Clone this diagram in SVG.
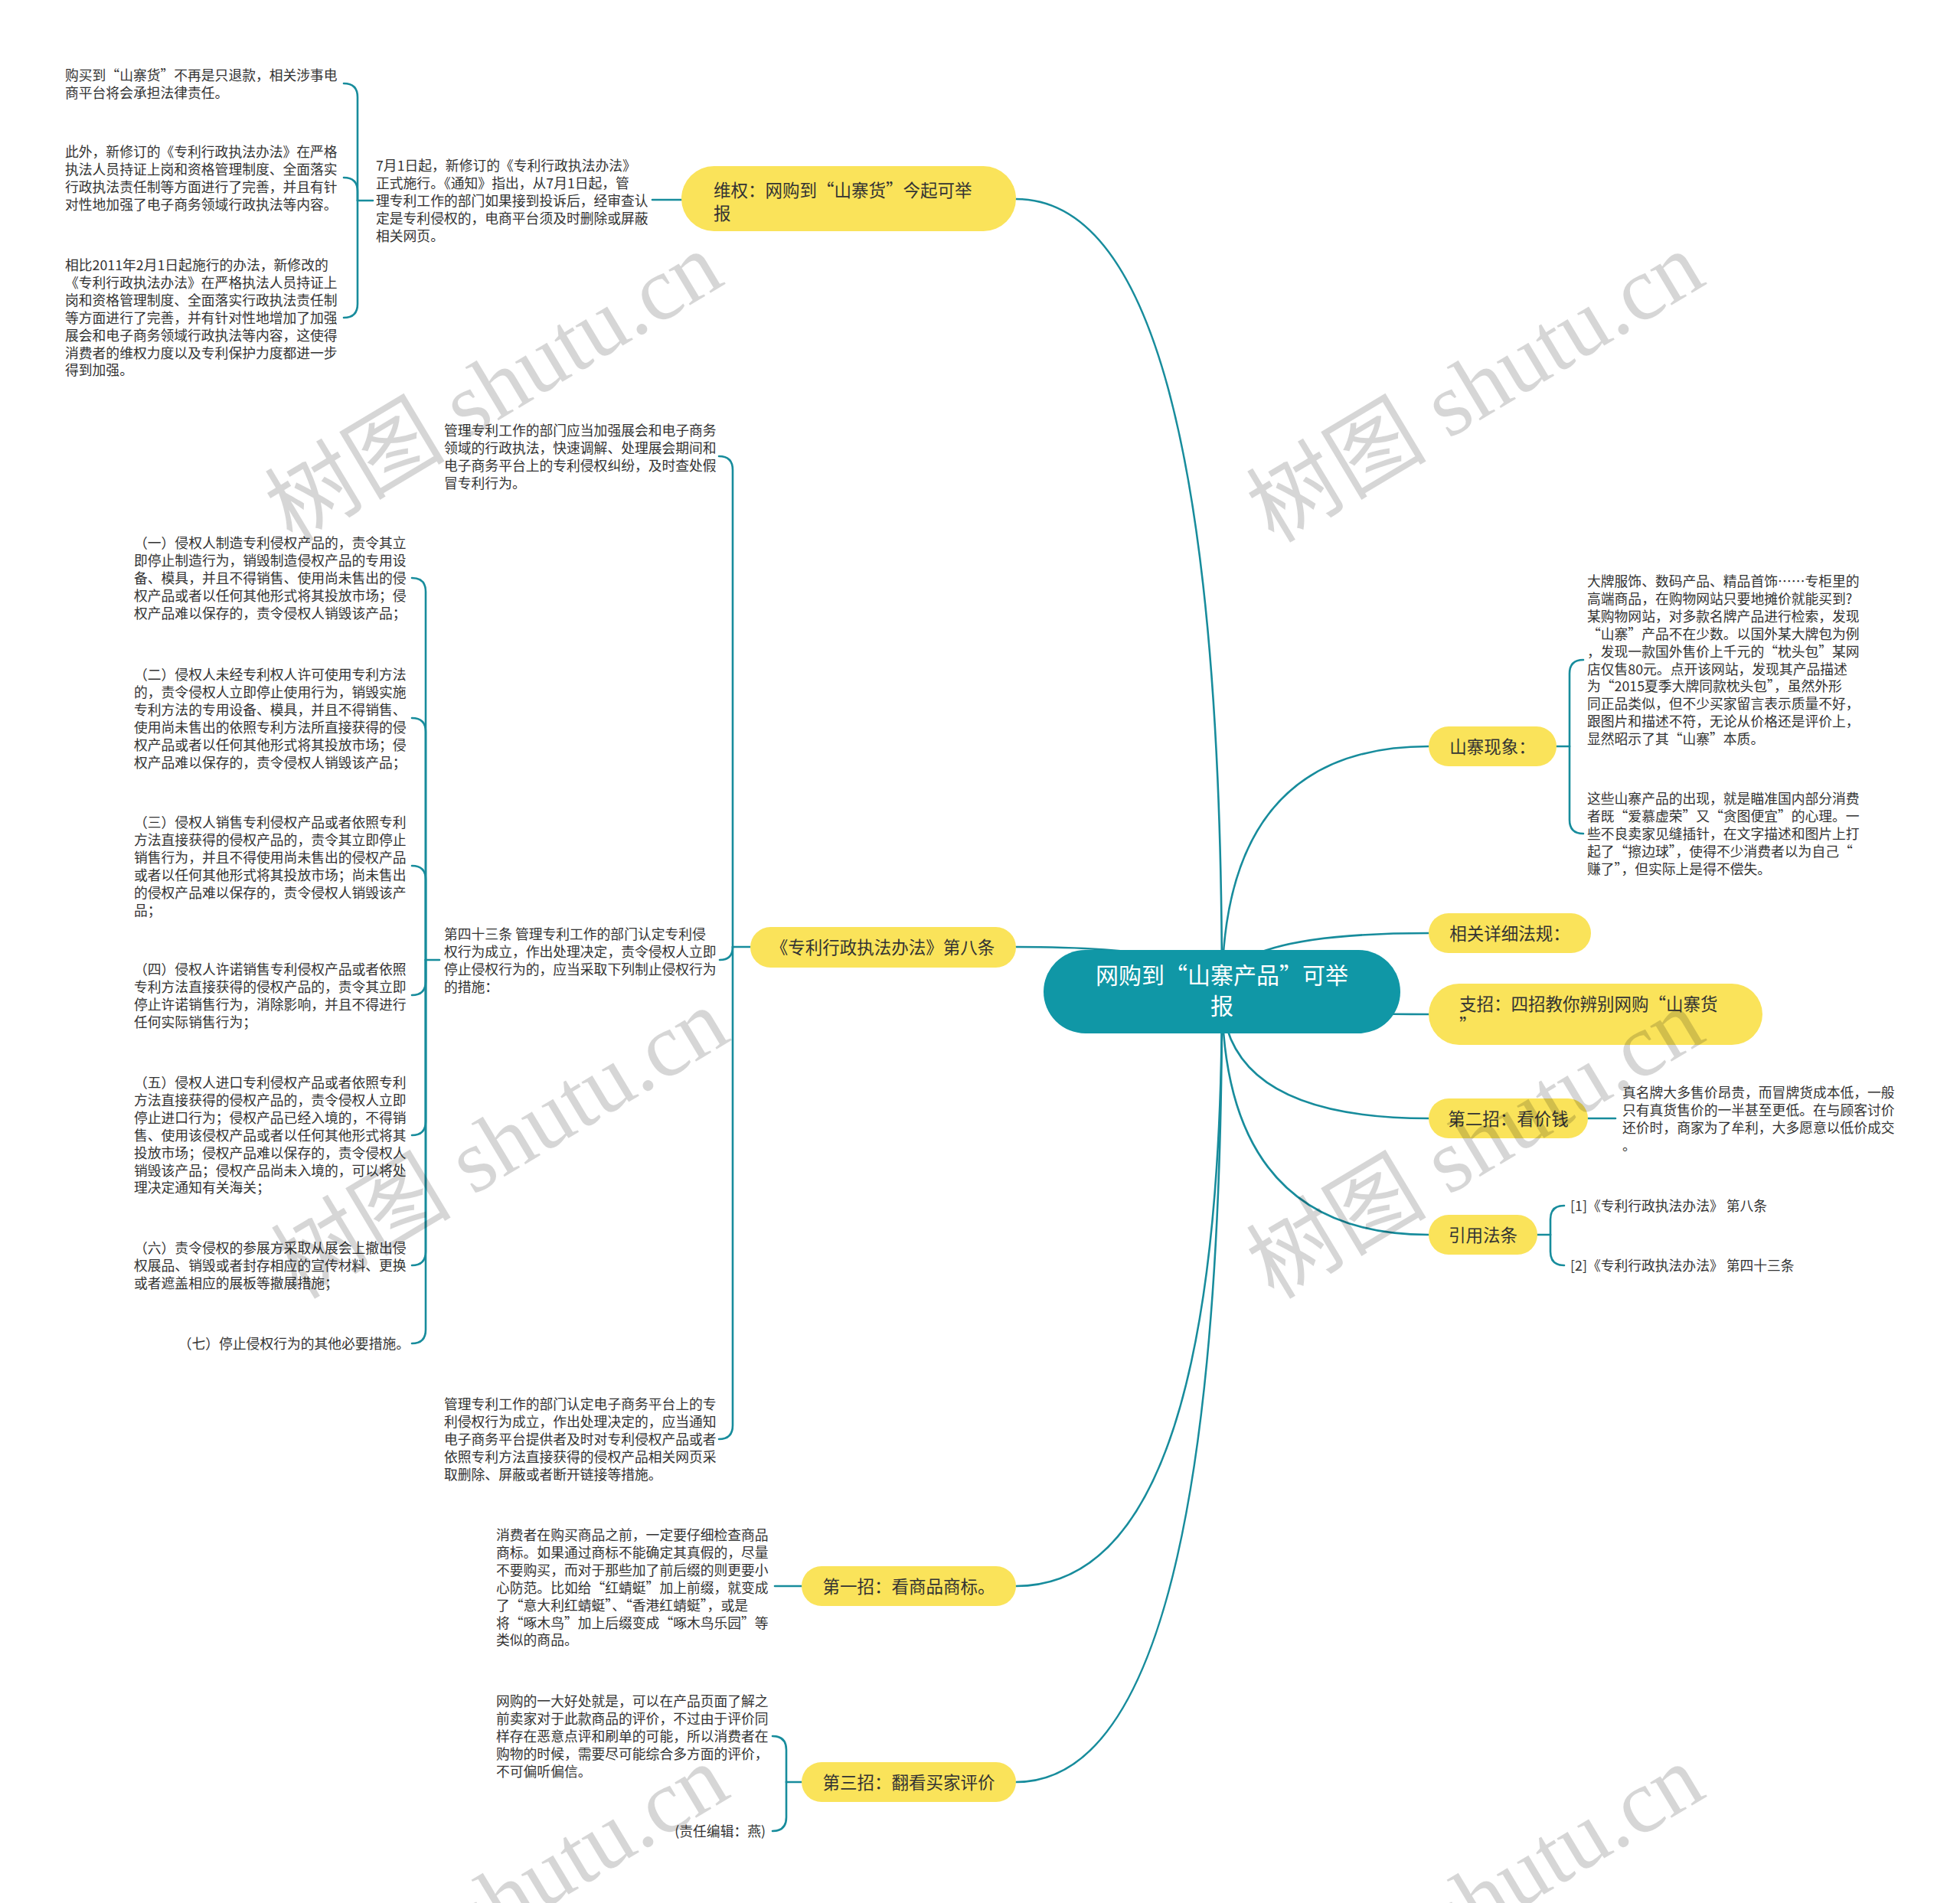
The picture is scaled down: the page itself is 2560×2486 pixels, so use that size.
<svg xmlns="http://www.w3.org/2000/svg" width="2560" height="2486" viewBox="0 0 2560 2486">
<style>
.t{font-family:'Noto Sans CJK SC','Noto Sans',sans-serif;font-size:17.8px;fill:#333}
.n{font-family:'Noto Sans CJK SC','Noto Sans',sans-serif;font-size:22.5px;fill:#333}
.r{font-family:'Noto Sans CJK SC','Noto Sans',sans-serif;font-size:30px;fill:#fff}
.y{fill:#fae35a}
.c path{fill:none;stroke:#178c9c;stroke-width:2.6;stroke-linecap:round}
.wm{font-family:'Liberation Serif','Noto Sans CJK SC',serif;font-size:118px;fill:#000;fill-opacity:0.16}
</style>
<rect width="2560" height="2486" fill="#fff"/>
<g id="connectors" class="c">
<path d="M1596,1296 Q1596,260 1327,260"/>
<path d="M1596,1296 Q1596,1237 1327,1237"/>
<path d="M1596,1296 Q1596,2072 1327,2072"/>
<path d="M1596,1296 Q1596,2328 1327,2328"/>
<path d="M1596,1296 Q1596,975 1866,975"/>
<path d="M1596,1296 Q1596,1219 1866,1219"/>
<path d="M1596,1296 Q1596,1325 1866,1325"/>
<path d="M1596,1296 Q1596,1461 1866,1461"/>
<path d="M1596,1296 Q1596,1613 1866,1613"/>
<path d="M852,261 H890"/>
<path d="M487,262 H467"/>
<path d="M467,262 V127 Q467,109 449,109"/>
<path d="M467,262 V250 Q467,232 449,232"/>
<path d="M467,262 V397 Q467,415 449,415"/>
<path d="M980,1237 H957"/>
<path d="M957,1237 V614 Q957,596 939,596"/>
<path d="M957,1237 Q957,1254 940,1254"/>
<path d="M957,1237 V1862 Q957,1880 939,1880"/>
<path d="M574,1254 H556"/>
<path d="M556,1254 V773 Q556,755 538,755"/>
<path d="M556,1254 V956 Q556,938 538,938"/>
<path d="M556,1254 V1149 Q556,1131 538,1131"/>
<path d="M556,1254 V1282 Q556,1300 538,1300"/>
<path d="M556,1254 V1465 Q556,1483 538,1483"/>
<path d="M556,1254 V1635 Q556,1653 538,1653"/>
<path d="M556,1254 V1737 Q556,1755 538,1755"/>
<path d="M1012,2072 H1047"/>
<path d="M1047,2328 H1027"/>
<path d="M1027,2328 V2286 Q1027,2268 1009,2268"/>
<path d="M1027,2328 V2374 Q1027,2392 1009,2392"/>
<path d="M2033,975 H2050"/>
<path d="M2050,975 V880 Q2050,862 2068,862"/>
<path d="M2050,975 V1071 Q2050,1089 2068,1089"/>
<path d="M2074,1461 H2110"/>
<path d="M2008,1613 H2025"/>
<path d="M2025,1613 V1593 Q2025,1575 2043,1575"/>
<path d="M2025,1613 V1635 Q2025,1653 2043,1653"/>
</g>
<g id="root">
<rect x="1363" y="1241" width="466" height="109" rx="54.5" fill="#1097a6"/>
<text class="r" text-anchor="middle"><tspan x="1596" y="1285">网购到“山寨产品”可举</tspan><tspan x="1596" y="1325">报</tspan></text>
</g>
<g id="n-weiquan">
<rect class="y" x="890" y="217" width="437" height="85" rx="42.5"/>
<text class="n"><tspan x="932" y="256.5">维权：网购到“山寨货”今起可举</tspan><tspan x="932" y="286.5">报</tspan></text>
</g>
<g id="t-weiquan">
<text class="t"><tspan x="491" y="223">7月1日起，新修订的《专利行政执法办法》</tspan><tspan x="491" dy="22.9">正式施行。《通知》指出，从7月1日起，管</tspan><tspan x="491" dy="22.9">理专利工作的部门如果接到投诉后，经审查认</tspan><tspan x="491" dy="22.9">定是专利侵权的，电商平台须及时删除或屏蔽</tspan><tspan x="491" dy="22.9">相关网页。</tspan></text>
</g>
<g id="t-w1">
<text class="t"><tspan x="85" y="105">购买到“山寨货”不再是只退款，相关涉事电</tspan><tspan x="85" dy="22.9">商平台将会承担法律责任。</tspan></text>
</g>
<g id="t-w2">
<text class="t"><tspan x="85" y="205">此外，新修订的《专利行政执法办法》在严格</tspan><tspan x="85" dy="22.9">执法人员持证上岗和资格管理制度、全面落实</tspan><tspan x="85" dy="22.9">行政执法责任制等方面进行了完善，并且有针</tspan><tspan x="85" dy="22.9">对性地加强了电子商务领域行政执法等内容。</tspan></text>
</g>
<g id="t-w3">
<text class="t"><tspan x="85" y="353">相比2011年2月1日起施行的办法，新修改的</tspan><tspan x="85" dy="22.9">《专利行政执法办法》在严格执法人员持证上</tspan><tspan x="85" dy="22.9">岗和资格管理制度、全面落实行政执法责任制</tspan><tspan x="85" dy="22.9">等方面进行了完善，并有针对性地增加了加强</tspan><tspan x="85" dy="22.9">展会和电子商务领域行政执法等内容，这使得</tspan><tspan x="85" dy="22.9">消费者的维权力度以及专利保护力度都进一步</tspan><tspan x="85" dy="22.9">得到加强。</tspan></text>
</g>
<g id="n-di8">
<rect class="y" x="980" y="1211" width="347" height="53" rx="26.5"/>
<text class="n" x="1153" y="1245.5" text-anchor="middle">《专利行政执法办法》第八条</text>
</g>
<g id="t-guanli1">
<text class="t"><tspan x="580" y="569">管理专利工作的部门应当加强展会和电子商务</tspan><tspan x="580" dy="22.9">领域的行政执法，快速调解、处理展会期间和</tspan><tspan x="580" dy="22.9">电子商务平台上的专利侵权纠纷，及时查处假</tspan><tspan x="580" dy="22.9">冒专利行为。</tspan></text>
</g>
<g id="t-di43">
<text class="t"><tspan x="580" y="1227">第四十三条 管理专利工作的部门认定专利侵</tspan><tspan x="580" dy="22.9">权行为成立，作出处理决定，责令侵权人立即</tspan><tspan x="580" dy="22.9">停止侵权行为的，应当采取下列制止侵权行为</tspan><tspan x="580" dy="22.9">的措施：</tspan></text>
</g>
<g id="t-guanli2">
<text class="t"><tspan x="580" y="1841">管理专利工作的部门认定电子商务平台上的专</tspan><tspan x="580" dy="22.9">利侵权行为成立，作出处理决定的，应当通知</tspan><tspan x="580" dy="22.9">电子商务平台提供者及时对专利侵权产品或者</tspan><tspan x="580" dy="22.9">依照专利方法直接获得的侵权产品相关网页采</tspan><tspan x="580" dy="22.9">取删除、屏蔽或者断开链接等措施。</tspan></text>
</g>
<g id="t-item1">
<text class="t"><tspan x="175" y="716">（一）侵权人制造专利侵权产品的，责令其立</tspan><tspan x="175" dy="22.9">即停止制造行为，销毁制造侵权产品的专用设</tspan><tspan x="175" dy="22.9">备、模具，并且不得销售、使用尚未售出的侵</tspan><tspan x="175" dy="22.9">权产品或者以任何其他形式将其投放市场；侵</tspan><tspan x="175" dy="22.9">权产品难以保存的，责令侵权人销毁该产品；</tspan></text>
</g>
<g id="t-item2">
<text class="t"><tspan x="175" y="888">（二）侵权人未经专利权人许可使用专利方法</tspan><tspan x="175" dy="22.9">的，责令侵权人立即停止使用行为，销毁实施</tspan><tspan x="175" dy="22.9">专利方法的专用设备、模具，并且不得销售、</tspan><tspan x="175" dy="22.9">使用尚未售出的依照专利方法所直接获得的侵</tspan><tspan x="175" dy="22.9">权产品或者以任何其他形式将其投放市场；侵</tspan><tspan x="175" dy="22.9">权产品难以保存的，责令侵权人销毁该产品；</tspan></text>
</g>
<g id="t-item3">
<text class="t"><tspan x="175" y="1081">（三）侵权人销售专利侵权产品或者依照专利</tspan><tspan x="175" dy="22.9">方法直接获得的侵权产品的，责令其立即停止</tspan><tspan x="175" dy="22.9">销售行为，并且不得使用尚未售出的侵权产品</tspan><tspan x="175" dy="22.9">或者以任何其他形式将其投放市场；尚未售出</tspan><tspan x="175" dy="22.9">的侵权产品难以保存的，责令侵权人销毁该产</tspan><tspan x="175" dy="22.9">品；</tspan></text>
</g>
<g id="t-item4">
<text class="t"><tspan x="175" y="1273">（四）侵权人许诺销售专利侵权产品或者依照</tspan><tspan x="175" dy="22.9">专利方法直接获得的侵权产品的，责令其立即</tspan><tspan x="175" dy="22.9">停止许诺销售行为，消除影响，并且不得进行</tspan><tspan x="175" dy="22.9">任何实际销售行为；</tspan></text>
</g>
<g id="t-item5">
<text class="t"><tspan x="175" y="1421">（五）侵权人进口专利侵权产品或者依照专利</tspan><tspan x="175" dy="22.9">方法直接获得的侵权产品的，责令侵权人立即</tspan><tspan x="175" dy="22.9">停止进口行为；侵权产品已经入境的，不得销</tspan><tspan x="175" dy="22.9">售、使用该侵权产品或者以任何其他形式将其</tspan><tspan x="175" dy="22.9">投放市场；侵权产品难以保存的，责令侵权人</tspan><tspan x="175" dy="22.9">销毁该产品；侵权产品尚未入境的，可以将处</tspan><tspan x="175" dy="22.9">理决定通知有关海关；</tspan></text>
</g>
<g id="t-item6">
<text class="t"><tspan x="175" y="1637">（六）责令侵权的参展方采取从展会上撤出侵</tspan><tspan x="175" dy="22.9">权展品、销毁或者封存相应的宣传材料、更换</tspan><tspan x="175" dy="22.9">或者遮盖相应的展板等撤展措施；</tspan></text>
</g>
<g id="t-item7">
<text class="t" x="535" y="1762" text-anchor="end">（七）停止侵权行为的其他必要措施。</text>
</g>
<g id="n-zhao1">
<rect class="y" x="1047" y="2046" width="280" height="52" rx="26"/>
<text class="n" x="1187" y="2080.5" text-anchor="middle">第一招：看商品商标。</text>
</g>
<g id="t-zhao1">
<text class="t"><tspan x="648" y="2012">消费者在购买商品之前，一定要仔细检查商品</tspan><tspan x="648" dy="22.9">商标。如果通过商标不能确定其真假的，尽量</tspan><tspan x="648" dy="22.9">不要购买，而对于那些加了前后缀的则更要小</tspan><tspan x="648" dy="22.9">心防范。比如给“红蜻蜓”加上前缀，就变成</tspan><tspan x="648" dy="22.9">了“意大利红蜻蜓”、“香港红蜻蜓”，或是</tspan><tspan x="648" dy="22.9">将“啄木鸟”加上后缀变成“啄木鸟乐园”等</tspan><tspan x="648" dy="22.9">类似的商品。</tspan></text>
</g>
<g id="n-zhao3">
<rect class="y" x="1047" y="2302" width="280" height="52" rx="26"/>
<text class="n" x="1187" y="2336.5" text-anchor="middle">第三招：翻看买家评价</text>
</g>
<g id="t-zhao3">
<text class="t"><tspan x="648" y="2229">网购的一大好处就是，可以在产品页面了解之</tspan><tspan x="648" dy="22.9">前卖家对于此款商品的评价，不过由于评价同</tspan><tspan x="648" dy="22.9">样存在恶意点评和刷单的可能，所以消费者在</tspan><tspan x="648" dy="22.9">购物的时候，需要尽可能综合多方面的评价，</tspan><tspan x="648" dy="22.9">不可偏听偏信。</tspan></text>
</g>
<g id="t-editor">
<text class="t" x="1000" y="2399" text-anchor="end">(责任编辑：燕)</text>
</g>
<g id="n-shanzhai">
<rect class="y" x="1866" y="949" width="167" height="52" rx="26"/>
<text class="n" x="1949.5" y="983.5" text-anchor="middle">山寨现象：</text>
</g>
<g id="t-shanzhai1">
<text class="t"><tspan x="2073" y="766">大牌服饰、数码产品、精品首饰……专柜里的</tspan><tspan x="2073" dy="22.9">高端商品，在购物网站只要地摊价就能买到?</tspan><tspan x="2073" dy="22.9">某购物网站，对多款名牌产品进行检索，发现</tspan><tspan x="2073" dy="22.9">“山寨”产品不在少数。以国外某大牌包为例</tspan><tspan x="2073" dy="22.9">，发现一款国外售价上千元的“枕头包”某网</tspan><tspan x="2073" dy="22.9">店仅售80元。点开该网站，发现其产品描述</tspan><tspan x="2073" dy="22.9">为“2015夏季大牌同款枕头包”，虽然外形</tspan><tspan x="2073" dy="22.9">同正品类似，但不少买家留言表示质量不好，</tspan><tspan x="2073" dy="22.9">跟图片和描述不符，无论从价格还是评价上，</tspan><tspan x="2073" dy="22.9">显然昭示了其“山寨”本质。</tspan></text>
</g>
<g id="t-shanzhai2">
<text class="t"><tspan x="2073" y="1050">这些山寨产品的出现，就是瞄准国内部分消费</tspan><tspan x="2073" dy="22.9">者既“爱慕虚荣”又“贪图便宜”的心理。一</tspan><tspan x="2073" dy="22.9">些不良卖家见缝插针，在文字描述和图片上打</tspan><tspan x="2073" dy="22.9">起了“擦边球”，使得不少消费者以为自己“</tspan><tspan x="2073" dy="22.9">赚了”，但实际上是得不偿失。</tspan></text>
</g>
<g id="n-fagui">
<rect class="y" x="1866" y="1193" width="212" height="52" rx="26"/>
<text class="n" x="1972" y="1227.5" text-anchor="middle">相关详细法规：</text>
</g>
<g id="n-zhizhao">
<rect class="y" x="1866" y="1285" width="436" height="80" rx="40"/>
<text class="n"><tspan x="1906" y="1319.5">支招：四招教你辨别网购“山寨货</tspan><tspan x="1906" y="1347.5">”</tspan></text>
</g>
<g id="n-zhao2">
<rect class="y" x="1866" y="1435" width="208" height="52" rx="26"/>
<text class="n" x="1970" y="1469.5" text-anchor="middle">第二招：看价钱</text>
</g>
<g id="t-zhao2">
<text class="t"><tspan x="2119" y="1434">真名牌大多售价昂贵，而冒牌货成本低，一般</tspan><tspan x="2119" dy="22.9">只有真货售价的一半甚至更低。在与顾客讨价</tspan><tspan x="2119" dy="22.9">还价时，商家为了牟利，大多愿意以低价成交</tspan><tspan x="2119" dy="22.9">。</tspan></text>
</g>
<g id="n-yinyong">
<rect class="y" x="1866" y="1587" width="142" height="52" rx="26"/>
<text class="n" x="1937" y="1621.5" text-anchor="middle">引用法条</text>
</g>
<g id="t-ref1">
<text class="t" x="2051" y="1582">[1]《专利行政执法办法》 第八条</text>
</g>
<g id="t-ref2">
<text class="t" x="2051" y="1660">[2]《专利行政执法办法》 第四十三条</text>
</g>
<g id="watermark" class="wm" text-anchor="middle">
<text transform="translate(645,506) rotate(-31)" x="0" y="40">树图 shutu.cn</text>
<text transform="translate(1927,506) rotate(-31)" x="0" y="40">树图 shutu.cn</text>
<text transform="translate(653,1494) rotate(-31)" x="0" y="40">树图 shutu.cn</text>
<text transform="translate(1927,1494) rotate(-31)" x="0" y="40">树图 shutu.cn</text>
<text transform="translate(653,2482) rotate(-31)" x="0" y="40">树图 shutu.cn</text>
<text transform="translate(1927,2482) rotate(-31)" x="0" y="40">树图 shutu.cn</text>
</g>
</svg>
